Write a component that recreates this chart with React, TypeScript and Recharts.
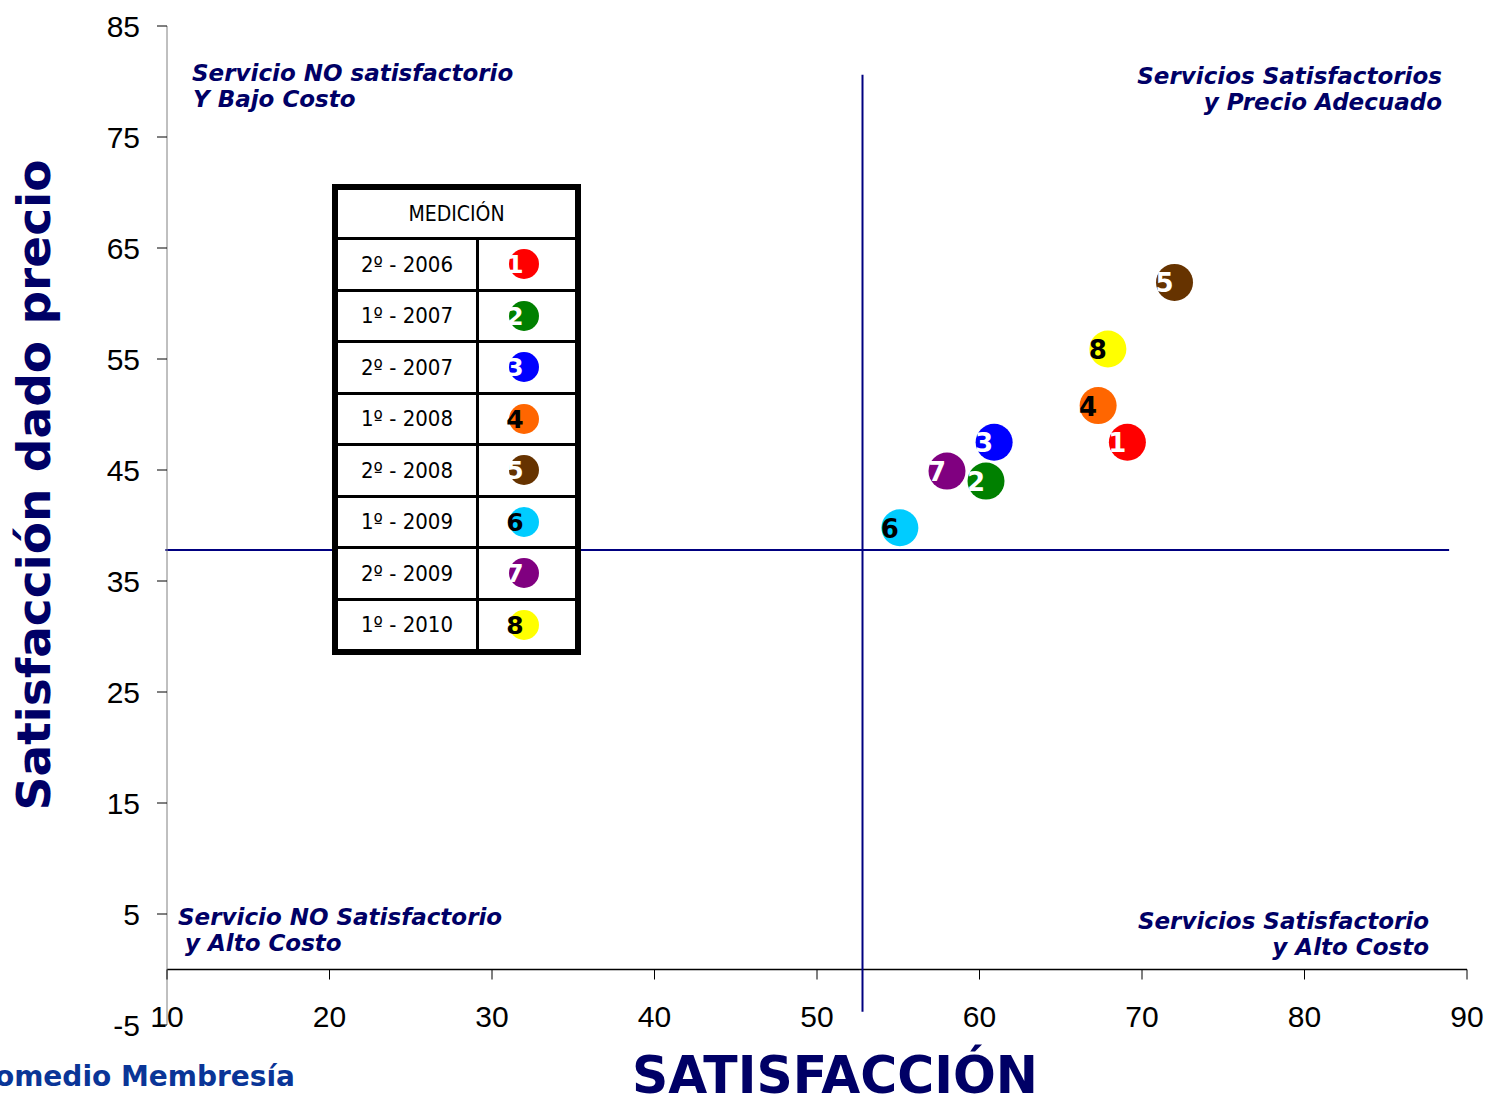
import { ScatterChart, Scatter, XAxis, YAxis, ReferenceLine } from 'recharts';

const periods = ['2º - 2006', '1º - 2007', '2º - 2007', '1º - 2008', '2º - 2008', '1º - 2009', '2º - 2009', '1º - 2010'];
const pointIds = ['1', '2', '3', '4', '5', '6', '7', '8'];
const satisfaction = [69.1, 60.4, 60.9, 67.3, 72.0, 55.1, 58.0, 67.9];
const valueForPrice = [47.5, 44.0, 47.5, 50.8, 61.9, 39.8, 44.9, 55.9];
const dotColors = ['#FF0000', '#008000', '#0000FF', '#FF6600', '#663300', '#00CCFF', '#800080', '#FFFF00'];
const digitColors = ['#fff', '#fff', '#fff', '#000', '#fff', '#000', '#fff', '#000'];

const xTicks = [10, 20, 30, 40, 50, 60, 70, 80, 90];
const yTicks = [-5, 5, 15, 25, 35, 45, 55, 65, 75, 85];

const cutX = 52.8;
const cutY = 37.8;

const W = 1489;
const H = 1097;
const PLOT_H = 999;
const NAVY = '#000066';

const points = pointIds.map((id, i) => ({
  id,
  x: satisfaction[i],
  y: valueForPrice[i],
  color: dotColors[i],
  digit: digitColors[i],
}));

const DotShape = (props: any) => {
  const { cx, cy, payload } = props;
  return (
    <g>
      <circle cx={cx} cy={cy} r={18.5} fill={payload.color} />
      <text x={cx - 10} y={cy + 10} textAnchor="middle" fontFamily="DejaVu Sans" fontWeight="bold" fontSize={26} fill={payload.digit}>
        {payload.id}
      </text>
    </g>
  );
};

// x axis sits on y = 0, not at the bottom of the plot
const XTick = (props: any) => {
  const { x, y, payload } = props;
  const y0 = y - (5 * PLOT_H) / 90;
  return (
    <g>
      <line x1={x} x2={x} y1={y0} y2={y0 + 10} stroke="#000" strokeWidth={1} />
      <text x={x} y={y0 + 57} textAnchor="middle" fontFamily="Liberation Sans" fontSize={30} fill="#000">
        {payload.value}
      </text>
    </g>
  );
};

const cornerStyle = {
  fontFamily: 'DejaVu Sans',
  fontWeight: 'bold' as const,
  fontStyle: 'italic' as const,
  fontSize: 23,
  fill: NAVY,
};

function Legend() {
  return (
    <div
      style={{
        position: 'absolute',
        left: 332,
        top: 184,
        width: 249,
        height: 471,
        boxSizing: 'border-box',
        border: '6px solid #000',
        background: '#fff',
        fontFamily: 'DejaVu Sans Condensed',
        color: '#000',
      }}
    >
      <div style={{ height: 47, display: 'flex', alignItems: 'center', justifyContent: 'center', fontSize: 21 }}>MEDICIÓN</div>
      {periods.map((p, i) => (
        <div key={p} style={{ display: 'flex', height: 48.5, borderTop: '3px solid #000' }}>
          <div style={{ width: 138, display: 'flex', alignItems: 'center', justifyContent: 'center', fontSize: 22, borderRight: '3px solid #000' }}>
            {p}
          </div>
          <div style={{ flex: 1, position: 'relative' }}>
            <svg width={96} height={48} style={{ position: 'absolute', left: 0, top: 0 }}>
              <circle cx={45} cy={24} r={15} fill={dotColors[i]} />
              <text x={36} y={33} textAnchor="middle" fontFamily="DejaVu Sans" fontWeight="bold" fontSize={25} fill={digitColors[i]}>
                {pointIds[i]}
              </text>
            </svg>
          </div>
        </div>
      ))}
    </div>
  );
}

export default function App() {
  return (
    <div style={{ position: 'absolute', left: 0, top: 0, width: W, height: H, background: '#fff' }}>
      <ScatterChart width={W} height={H} margin={{ top: 26, right: 22, bottom: 12, left: 100 }}>
        <XAxis
          type="number"
          dataKey="x"
          domain={[10, 90]}
          ticks={xTicks}
          height={60}
          axisLine={false}
          tickLine={false}
          tickSize={0}
          tickMargin={0}
          tick={<XTick />}
        />
        <YAxis
          type="number"
          dataKey="y"
          domain={[-5, 85]}
          ticks={yTicks}
          width={67}
          axisLine={{ stroke: '#808080', strokeWidth: 1 }}
          tickLine={{ stroke: '#000', strokeWidth: 1 }}
          tickSize={10}
          tickMargin={17}
          tick={{ fontFamily: 'Liberation Sans', fontSize: 30, fill: '#000' }}
        />
        <ReferenceLine y={0} stroke="#000" strokeWidth={1.5} />
        <ReferenceLine
          segment={[{ x: cutX, y: 80.6 }, { x: cutX, y: -3.8 }]}
          stroke="#000080"
          strokeWidth={2}
          ifOverflow="visible"
        />
        <ReferenceLine
          segment={[{ x: 9.9, y: cutY }, { x: 88.9, y: cutY }]}
          stroke="#000080"
          strokeWidth={2}
          ifOverflow="visible"
        />
        <Scatter data={points} shape={DotShape} isAnimationActive={false} />
      </ScatterChart>

      <svg width={W} height={H} style={{ position: 'absolute', left: 0, top: 0, pointerEvents: 'none' }}>
        <text
          x={50}
          y={485}
          transform="rotate(-90 50 485)"
          textAnchor="middle"
          fontFamily="DejaVu Sans"
          fontWeight="bold"
          fontSize={47}
          fill={NAVY}
        >
          Satisfacción dado precio
        </text>
        <text
          x={835}
          y={1093}
          textAnchor="middle"
          fontFamily="DejaVu Sans"
          fontWeight="bold"
          fontSize={52}
          textLength={406}
          lengthAdjust="spacingAndGlyphs"
          fill={NAVY}
        >
          SATISFACCIÓN
        </text>
        <text x={295} y={1086} textAnchor="end" fontFamily="DejaVu Sans" fontWeight="bold" fontSize={28} fill="#0a3597">
          Promedio Membresía
        </text>

        <text x={192} y={81} style={cornerStyle}>Servicio NO satisfactorio</text>
        <text x={193} y={107} style={cornerStyle}>Y Bajo Costo</text>

        <text x={1442} y={84} textAnchor="end" style={cornerStyle}>Servicios Satisfactorios</text>
        <text x={1442} y={110} textAnchor="end" style={cornerStyle}>y Precio Adecuado</text>

        <text x={178} y={925} style={cornerStyle}>Servicio NO Satisfactorio</text>
        <text x={185} y={951} style={cornerStyle}>y Alto Costo</text>

        <text x={1429} y={929} textAnchor="end" style={cornerStyle}>Servicios Satisfactorio</text>
        <text x={1429} y={955} textAnchor="end" style={cornerStyle}>y Alto Costo</text>
      </svg>

      <Legend />
    </div>
  );
}
